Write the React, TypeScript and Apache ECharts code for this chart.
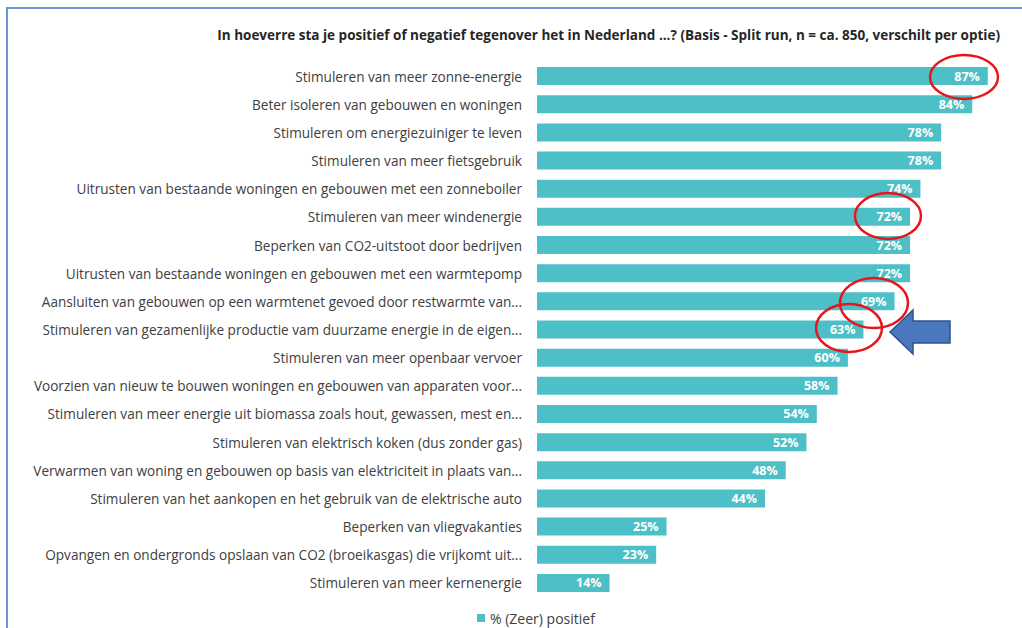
import React, { useEffect, useRef } from "react";
import * as echarts from "echarts";

const categories: string[] = [
  "Stimuleren van meer zonne-energie",
  "Beter isoleren van gebouwen en woningen",
  "Stimuleren om energiezuiniger te leven",
  "Stimuleren van meer fietsgebruik",
  "Uitrusten van bestaande woningen en gebouwen met een zonneboiler",
  "Stimuleren van meer windenergie",
  "Beperken van CO2-uitstoot door bedrijven",
  "Uitrusten van bestaande woningen en gebouwen met een warmtepomp",
  "Aansluiten van gebouwen op een warmtenet gevoed door restwarmte van...",
  "Stimuleren van gezamenlijke productie vam duurzame energie in de eigen...",
  "Stimuleren van meer openbaar vervoer",
  "Voorzien van nieuw te bouwen woningen en gebouwen van apparaten voor...",
  "Stimuleren van meer energie uit biomassa zoals hout, gewassen, mest en...",
  "Stimuleren van elektrisch koken (dus zonder gas)",
  "Verwarmen van woning en gebouwen op basis van elektriciteit in plaats van...",
  "Stimuleren van het aankopen en het gebruik van de elektrische auto",
  "Beperken van vliegvakanties",
  "Opvangen en ondergronds opslaan van CO2 (broeikasgas) die vrijkomt uit...",
  "Stimuleren van meer kernenergie",
];

const positief: number[] = [87, 84, 78, 78, 74, 72, 72, 72, 69, 63, 60, 58, 54, 52, 48, 44, 25, 23, 14];

const seriesName = "% (Zeer) positief";
const title =
  "In hoeverre sta je positief of negatief tegenover het in Nederland ...? (Basis - Split run, n = ca. 850, verschilt per optie)";

const FONT = "'Open Sans', Lato, sans-serif";

export default function App() {
  const ref = useRef<HTMLDivElement>(null);

  useEffect(() => {
    if (!ref.current) return;
    const chart = echarts.init(ref.current, undefined, { renderer: "svg" });
    const red = "#e8151b";
    chart.setOption({
      animation: false,
      backgroundColor: "#ffffff",
      title: {
        text: title,
        right: 17,
        top: 23,
        textStyle: { fontFamily: FONT, fontSize: 13.5, fontWeight: "bold", color: "#262626" },
      },
      legend: {
        data: [seriesName],
        left: 472,
        top: 606,
        itemWidth: 8,
        itemHeight: 8,
        itemGap: 6,
        icon: "rect",
        textStyle: { fontFamily: FONT, fontSize: 14, color: "#404040" },
      },
      grid: { left: 537, top: 62, width: 485, height: 535, containLabel: false },
      xAxis: { type: "value", min: 0, max: 93.6, show: false },
      yAxis: {
        type: "category",
        data: categories,
        inverse: true,
        axisLine: { show: false },
        axisTick: { show: false },
        axisLabel: { margin: 15, fontFamily: FONT, fontSize: 13.6, color: "#404040" },
      },
      series: [
        {
          name: seriesName,
          type: "bar",
          data: positief,
          barWidth: 18,
          itemStyle: { color: "#4cbfc7" },
          label: {
            show: true,
            position: "insideRight",
            offset: [-3, 0],
            formatter: "{c}%",
            color: "#ffffff",
            fontWeight: "bold",
            fontFamily: FONT,
            fontSize: 12.5,
          },
        },
      ],
      graphic: [
        { type: "line", shape: { x1: 7, y1: 8, x2: 7, y2: 628 }, style: { stroke: "#6a96d2", lineWidth: 2 } },
        { type: "line", shape: { x1: 6, y1: 8, x2: 1022, y2: 8 }, style: { stroke: "#6a96d2", lineWidth: 2 } },
        { type: "ellipse", shape: { cx: 964, cy: 77, rx: 34, ry: 22 }, style: { fill: "none", stroke: red, lineWidth: 2.5 }, z: 100 },
        { type: "ellipse", shape: { cx: 888, cy: 216, rx: 33, ry: 23 }, style: { fill: "none", stroke: red, lineWidth: 2.5 }, z: 100 },
        { type: "ellipse", shape: { cx: 874, cy: 303, rx: 34, ry: 25 }, style: { fill: "none", stroke: red, lineWidth: 2.5 }, z: 100 },
        { type: "ellipse", shape: { cx: 849, cy: 328, rx: 33, ry: 24 }, style: { fill: "none", stroke: red, lineWidth: 2.5 }, z: 100 },
        {
          type: "polygon",
          shape: {
            points: [
              [890, 332],
              [913, 310],
              [913, 321],
              [950, 321],
              [950, 343],
              [913, 343],
              [913, 354],
            ],
          },
          style: { fill: "#4a77bd", stroke: "#2f528f", lineWidth: 1.5 },
          z: 100,
        },
      ],
    });
    return () => chart.dispose();
  }, []);

  return (
    <div
      ref={ref}
      style={{ position: "fixed", left: 0, top: 0, width: 1022, height: 628 }}
    />
  );
}
